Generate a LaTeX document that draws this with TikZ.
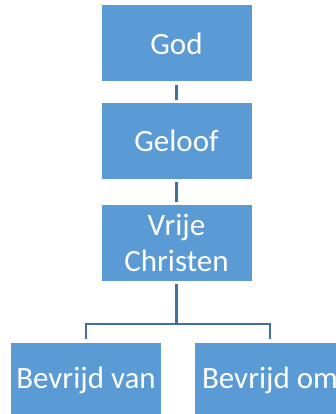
\documentclass[tikz,border=0pt]{standalone}
\usepackage{fontspec}
\setmainfont{Carlito}
\definecolor{boxblue}{HTML}{5B9BD5}
\definecolor{lineblue}{HTML}{41719C}
\tikzset{
    treebox/.style={rectangle, fill=boxblue, text=white, minimum width=150pt, minimum height=76pt, inner sep=2pt, align=center, font=\fontsize{31}{36}\selectfont},
    treeline/.style={draw=lineblue, line width=2.2pt}
}
\begin{document}
\begin{tikzpicture}[x=1pt, y=-1pt]
    \clip (0,0) rectangle (336,414);
    \fill[white] (0,0) rectangle (336,414);
    \node(god) [treebox] at (176.5,43.5) {God};
    \node(geloof) [treebox] at (176.5,141) {Geloof};
    \node(vrije) [treebox] at (176.5,243) {Vrije\\Christen};
    \node(bvan) [treebox] at (86,380.5) {Bevrijd van};
    \node(bom) [treebox] at (270,380.5) {Bevrijd om};
    \coordinate(split) at (176.5,324);
    \draw[treeline, shorten <=3pt, shorten >=3pt] (god.south) -- (geloof.north);
    \draw[treeline, shorten <=3pt, shorten >=3pt] (geloof.south) -- (vrije.north);
    \draw[treeline, shorten <=3pt] (vrije.south) -- (split);
    \draw[treeline, shorten >=3pt] (split) -| (bvan.north);
    \draw[treeline, shorten >=3pt] (split) -| (bom.north);
\end{tikzpicture}
\end{document}
